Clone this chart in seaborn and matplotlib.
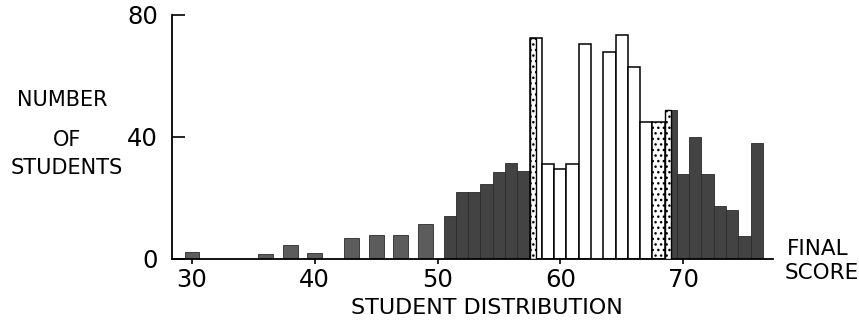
import matplotlib
matplotlib.use("Agg")
import matplotlib.pyplot as plt
import pandas as pd
import seaborn as sns

# ---- data ----
scores = list(range(30, 77))
counts = [2.3, 0, 0, 0, 0, 0, 1.5, 0, 4.7, 0,      # 30-39
          2.0, 0, 0, 7.0, 0, 8.0, 0, 8.0, 0, 11.5,   # 40-49
          0, 14, 22, 22, 24.5, 28.5, 31.5, 29, 72.5, 31,  # 50-59
          29.5, 31, 70.5, 0, 68, 73.5, 63, 45, 45, 49,    # 60-69
          28, 40, 28, 17.5, 16, 7.5, 38]                  # 70-76
fills = (["shaded"] * 28            # 30-57
         + ["plain"] * 5            # 58-62 (58 right half plain)
         + ["plain"]                # 63 (empty)
         + ["plain"] * 4            # 64-67
         + ["dotted"]               # 68
         + ["shaded"] * 8)          # 69-76 (69 right half shaded)
split_scores = [58, 69]
split_left_fill = ["dotted", "dotted"]

x_ticks = [30, 40, 50, 60, 70]
y_ticks = [0, 40, 80]

# ---- style ----
sns.set_theme(style="ticks")
plt.rcParams["font.family"] = ["DejaVu Sans"]
plt.rcParams["hatch.linewidth"] = 1.0
plt.rcParams["hatch.color"] = "black"

fig = plt.figure(figsize=(8.59, 3.2), dpi=100)
ax = fig.add_axes([172 / 859, 61 / 320, 601 / 859, 244 / 320])

df = pd.DataFrame({"score": scores, "count": counts, "fill": fills})
df = df[df["count"] > 0]

palette = {"shaded": "#434343", "plain": "white", "dotted": "white"}
sns.barplot(data=df, x="score", y="count", hue="fill", palette=palette,
            native_scale=True, width=1.0, dodge=False, legend=False,
            edgecolor="black", linewidth=1.1, saturation=1, ax=ax)

fill_of = dict(zip(scores, fills))
for p in ax.patches:
    c = p.get_x() + p.get_width() / 2
    s = int(round(c))
    f = fill_of.get(s)
    if f == "dotted":
        p.set_hatch("...")
        p.set_edgecolor("black")
    elif f == "shaded":
        p.set_edgecolor("#2a2a2a")
        p.set_linewidth(0.6)
        if s < 50:
            p.set_facecolor("#5c5c5c")
    else:
        p.set_edgecolor("black")
    if s < 50:
        w = 1.2
        p.set_x(c - w / 2)
        p.set_width(w)

for s, lf in zip(split_scores, split_left_fill):
    h = counts[scores.index(s)]
    ax.bar(s - 0.25, h, width=0.5, facecolor="white", edgecolor="black",
           hatch="...", linewidth=1.0, zorder=3)

ax.set_xlim(28.37, 77.33)
ax.set_ylim(0, 80)
ax.set_xticks(x_ticks)
ax.set_xticklabels([str(t) for t in x_ticks])
ax.set_yticks(y_ticks)
ax.set_yticklabels([str(t) for t in y_ticks])
ax.set_xlabel("")
ax.set_ylabel("")

ax.tick_params(axis="y", direction="in", length=9.5, width=1.2,
               labelsize=17.5, pad=10, colors="black")
ax.tick_params(axis="x", direction="out", length=3.5, width=1.2,
               labelsize=17.5, pad=3, colors="black")
sns.despine(ax=ax)
ax.spines["left"].set_bounds(0, 80)
for sp in ("left", "bottom"):
    ax.spines[sp].set_linewidth(1.3)
    ax.spines[sp].set_color("black")

# ---- text ----
def ftext(px, py, s, size, ha="center"):
    fig.text(px / 859, 1 - py / 320, s, ha=ha, va="center",
             fontsize=size, color="black")

ftext(487, 308, "STUDENT DISTRIBUTION", 16)
ftext(62.5, 100, "NUMBER", 15)
ftext(67, 139.5, "OF", 15)
ftext(67, 167.5, "STUDENTS", 15)
ftext(818, 249, "FINAL", 15.5)
ftext(822, 273, "SCORE", 15.5)

fig.savefig("out.png", dpi=100)
